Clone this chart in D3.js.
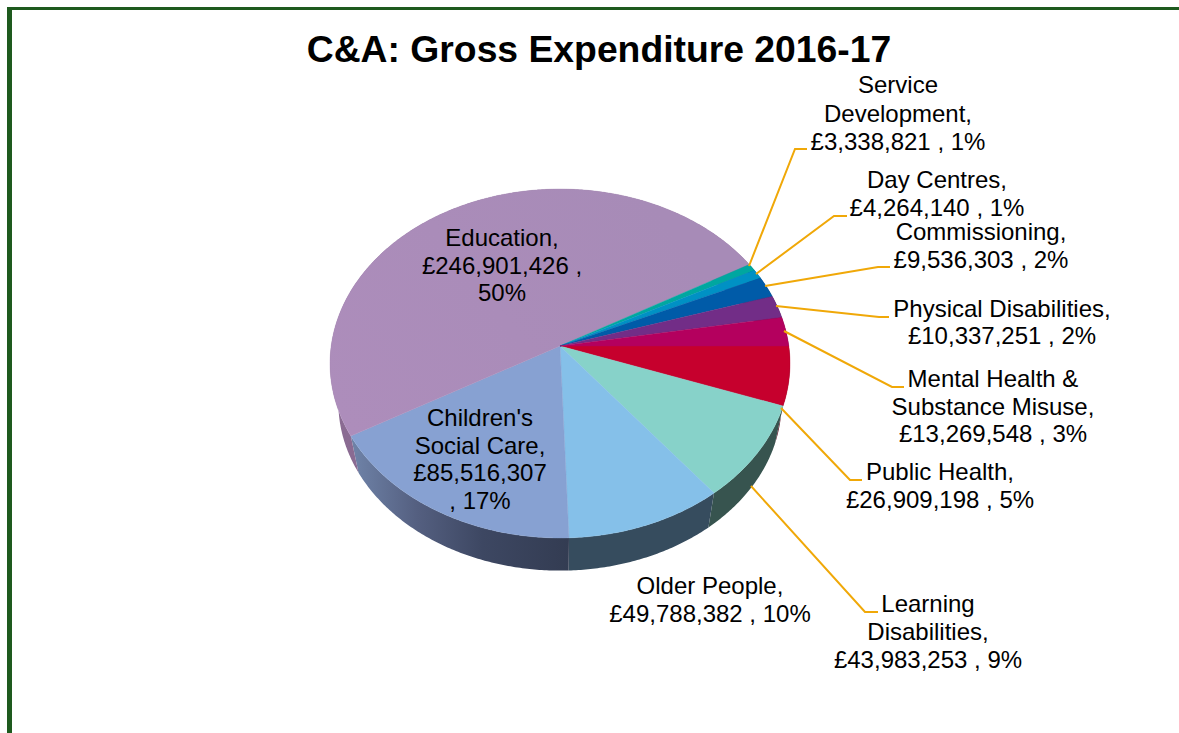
<!DOCTYPE html>
<html>
<head>
<meta charset="utf-8">
<script src="https://cdnjs.cloudflare.com/ajax/libs/d3/7.8.5/d3.min.js"></script>
<style>
    html,body{margin:0;padding:0;background:#fff;overflow:hidden}
    svg{display:block}
    text{font-family:"Liberation Sans",Arial,sans-serif;fill:#000}
</style>
</head>
<body>
<svg id="chart" width="1179" height="733"></svg>
<script>
// clockwise, starting from the slice that sits just below the horizontal
var categories=["Public Health","Learning Disabilities","Older People","Children's Social Care","Education",
                "Service Development","Day Centres","Commissioning","Physical Disabilities","Mental Health & Substance Misuse"];
var values=[26909198,43983253,49788382,85516307,246901426,3338821,4264140,9536303,10337251,13269548];
var percents=[5,9,10,17,50,1,1,2,2,3];

var topColors=["#c6002d","#87d2c9","#85c0e9","#87a1d2","url(#educationTop)","#00a7a0","#0091c4","#005ba8","#722d87","#b4005e"];
var sideColors=["#5e1027","#37544f","#364c5e","url(#childrenSide)","#8a6b92","#00504c","#004660","#002c52","#371642","#57002e"];

// text lines of each label, same order as categories
var labelLines=[
    ["Public Health,"],
    ["Learning","Disabilities,"],
    ["Older People,"],
    ["Children's","Social Care,"],
    ["Education,"],
    ["Service","Development,"],
    ["Day Centres,"],
    ["Commissioning,"],
    ["Physical Disabilities,"],
    ["Mental Health &","Substance Misuse,"]
];
var labelCenterX=[940,928,710,480,502,898,937,981,1002,993];
var labelFirstBase=[480,612,594,426,246,93,188,240,317,387];
var lineStep=[28,28,28,27.7,27.5,28.5,28,28,27,27.5];
// last value line wraps on the big slices
var wrapValue=[false,false,false,true,true,false,false,false,false,false];

// leader lines from slice to label, null for labels inside the pie
var leaders=[
    [[781,408],[850,480],[862,480]],
    [[751,486],[865,612],[878,612]],
    null,
    null,
    null,
    [[749,266],[795,149],[807,149]],
    [[756,274],[834,216],[847,216]],
    [[765,286],[878,267],[890,267]],
    [[776,306],[879,317],[889,317]],
    [[784,331],[892,387],[904,387]]
];

var svg=d3.select("#chart");
var defs=svg.append("defs");

function addGradient(id,x1,y1,x2,y2,stops){
    var g=defs.append("linearGradient").attr("id",id)
        .attr("gradientUnits","userSpaceOnUse")
        .attr("x1",x1).attr("y1",y1).attr("x2",x2).attr("y2",y2);
    stops.forEach(function(s){
        g.append("stop").attr("offset",s[0]).attr("stop-color",s[1]);
    });
}
addGradient("childrenSide",352,0,570,0,[[0,"#6f83a8"],[0.3,"#545f80"],[0.6,"#3d4762"],[1,"#333c52"]]);
addGradient("educationTop",350,430,650,200,[[0,"#ad8dbb"],[1,"#a78bb7"]]);

// frame
svg.append("rect").attr("x",7).attr("y",7).attr("width",1172).attr("height",3).attr("fill","#1e5a1e");
svg.append("rect").attr("x",7).attr("y",7).attr("width",5).attr("height",726).attr("fill","#1e5a1e");

svg.append("text").attr("x",599).attr("y",62).attr("text-anchor","middle")
    .attr("font-size",37.3).attr("font-weight","bold").text("C&A: Gross Expenditure 2016-17");

// the pie is a tilted disc, so the rim is projected, not a plain ellipse
var tilt=0.1003;
var topDisc={cx:560,cy:346,a:228.8,b:172.7};
var baseDisc={cx:560,cy:386,a:220.5,b:166.1};

function project(disc,angle,r){
    var x=r*Math.sin(angle),
        y=-r*Math.cos(angle),
        w=1-tilt*y;
    return [disc.cx+disc.a*x/w, disc.cy+disc.b*y/w];
}

function rim(disc,a0,a1){
    var n=Math.max(2,Math.ceil((a1-a0)/0.01));
    return d3.range(n+1).map(function(i){
        return project(disc,a0+(a1-a0)*i/n,1);
    });
}

var pie=d3.pie().sort(null).startAngle(Math.PI/2).endAngle(Math.PI/2+2*Math.PI);
var arcs=pie(values);
var path=d3.line();

// side wall first, top surface covers what is hidden
svg.append("g").selectAll("path").data(arcs).enter().append("path")
    .attr("fill",function(d,i){return sideColors[i]})
    .attr("d",function(d){
        var up=rim(topDisc,d.startAngle,d.endAngle),
            down=rim(baseDisc,d.startAngle,d.endAngle).reverse();
        return path(up.concat(down))+"Z";
    });

svg.append("g").selectAll("path").data(arcs).enter().append("path")
    .attr("fill",function(d,i){return topColors[i]})
    .attr("stroke",function(d,i){return topColors[i]})
    .attr("stroke-width",0.4)
    .attr("d",function(d){
        return path([[topDisc.cx,topDisc.cy]].concat(rim(topDisc,d.startAngle,d.endAngle)))+"Z";
    });

var leaderLine=d3.line();
svg.append("g").selectAll("path").data(leaders.filter(Boolean)).enter().append("path")
    .attr("fill","none").attr("stroke","#f0a808").attr("stroke-width",2)
    .attr("d",leaderLine);

var money=d3.format(",");
var labels=svg.append("g").attr("font-size",24);

categories.forEach(function(c,i){
    var tail="£"+money(values[i])+" , "+percents[i]+"%";
    var lines=labelLines[i].slice();
    if(wrapValue[i]){
        // Excel breaks these at its box width
        if(i==3){ lines.push("£"+money(values[i])); lines.push(", "+percents[i]+"%"); }
        else { lines.push("£"+money(values[i])+" ,"); lines.push(percents[i]+"%"); }
    }else{
        lines.push(tail);
    }
    lines.forEach(function(t,j){
        labels.append("text")
            .attr("x",labelCenterX[i])
            .attr("y",labelFirstBase[i]+j*lineStep[i])
            .attr("text-anchor","middle")
            .text(t);
    });
});
</script>
</body>
</html>
